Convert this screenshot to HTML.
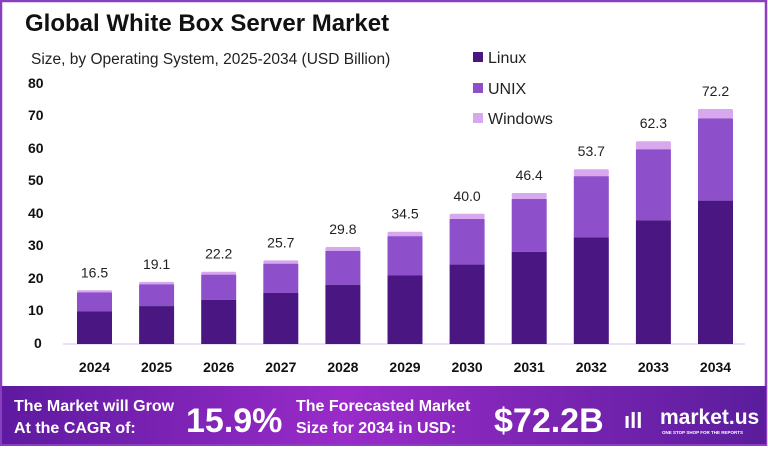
<!DOCTYPE html>
<html><head><meta charset="utf-8"><style>
body{margin:0;width:768px;height:446px;overflow:hidden;background:#fff;font-family:"Liberation Sans",sans-serif}
</style></head><body>
<svg width="768" height="446" xmlns="http://www.w3.org/2000/svg">
<defs><linearGradient id="g" x1="0" x2="1" y1="0" y2="0">
<stop offset="0" stop-color="#5e1aa0"/><stop offset="0.45" stop-color="#9a2bc9"/><stop offset="1" stop-color="#5a1d9c"/></linearGradient></defs>
<rect x="1" y="1" width="765" height="444" fill="#fff" stroke="#8a3fc0" stroke-width="2.5"/>
<text x="25" y="31" font-size="24" font-weight="bold" fill="#111">Global White Box Server Market</text>
<text x="31" y="64" font-size="15.5" fill="#222">Size, by Operating System, 2025-2034 (USD Billion)</text>
<g font-size="14" font-weight="bold" fill="#111" text-anchor="start">
<text x="28" y="88">80</text><text x="28" y="120">70</text><text x="28" y="153">60</text><text x="28" y="185">50</text><text x="28" y="218">40</text><text x="28" y="250">30</text><text x="28" y="283">20</text><text x="28" y="315">10</text><text x="34" y="348">0</text>
</g>
<line x1="63" y1="344" x2="745" y2="344" stroke="#d8c3ea" stroke-width="1"/>
<rect x="473" y="52" width="10" height="10" fill="#4a1782"/><text x="488" y="63" font-size="16" fill="#222">Linux</text>
<rect x="473" y="83" width="10" height="10" fill="#8e4fcb"/><text x="488" y="94" font-size="16" fill="#222">UNIX</text>
<rect x="473" y="113" width="10" height="10" fill="#d7a8ee"/><text x="488" y="124" font-size="16" fill="#222">Windows</text>
<g id="bars"></g>
<rect x="2" y="386" width="764" height="58" fill="url(#g)"/>
<g fill="#fff" font-weight="bold">
<text x="14" y="411" font-size="16">The Market will Grow</text>
<text x="14" y="433" font-size="16">At the CAGR of:</text>
<text x="186" y="432" font-size="34">15.9%</text>
<text x="296" y="411" font-size="16">The Forecasted Market</text>
<text x="296" y="433" font-size="16">Size for 2034 in USD:</text>
<text x="494" y="432" font-size="34">$72.2B</text>
<text x="660" y="424" font-size="21">market.us</text>
<text x="662" y="434" font-size="4.5">ONE STOP SHOP FOR THE REPORTS</text>
<text x="624" y="428" font-size="22">ıll</text>
</g>
</svg>
<script>
var v=[16.5,19.1,22.2,25.7,29.8,34.5,40.0,46.4,53.7,62.3,72.2],s=3.255,b=344,g=document.getElementById('bars'),h='';
for(var i=0;i<11;i++){var x=77+i*62.1,t=v[i]*s,l=t*0.61,u=t*0.35,w=t-l-u,c=x+17.5;
h+='<rect x="'+x+'" y="'+(b-t)+'" width="35" height="'+w+'" fill="#d7a8ee" rx="1.5"/>';
h+='<rect x="'+x+'" y="'+(b-l-u)+'" width="35" height="'+u+'" fill="#8e4fcb"/>';
h+='<rect x="'+x+'" y="'+(b-l)+'" width="35" height="'+l+'" fill="#4a1782"/>';
h+='<text x="'+c+'" y="'+(b-t-13)+'" font-size="14" text-anchor="middle" fill="#222">'+v[i].toFixed(1)+'</text>';
h+='<text x="'+c+'" y="372" font-size="14" font-weight="bold" text-anchor="middle" fill="#111">'+(2024+i)+'</text>';}
g.innerHTML=h;
</script>
</body></html>
